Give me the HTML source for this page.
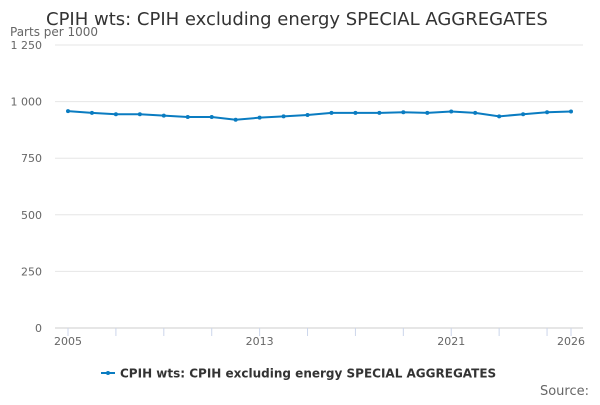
<!DOCTYPE html>
<html><head><meta charset="utf-8"><style>
body{margin:0;background:#fff;font-family:"Liberation Sans","DejaVu Sans",sans-serif;}
svg text{font-family:"DejaVu Sans","Liberation Sans",sans-serif;}
</style></head><body>
<svg width="600" height="400">
<text x="46" y="25" font-size="18" fill="#333">CPIH wts: CPIH excluding energy SPECIAL AGGREGATES</text>
<text x="10" y="36" font-size="12" fill="#666">Parts per 1000</text>
<g id="grid"></g><g id="xt"></g>
<polyline id="line" fill="none" stroke="#0a7cc1" stroke-width="2"/>
<g id="pts"></g>
<line x1="101" y1="373" x2="115" y2="373" stroke="#0a7cc1" stroke-width="2"/>
<circle cx="108" cy="373" r="2" fill="#0a7cc1"/>
<text x="120" y="377.5" font-size="12" font-weight="bold" fill="#333">CPIH wts: CPIH excluding energy SPECIAL AGGREGATES</text>
<text x="589" y="395" font-size="13" fill="#666" text-anchor="end">Source:</text>
</svg>
<script>
const years=[2005,2006,2007,2008,2009,2010,2011,2012,2013,2014,2015,2016,2017,2018,2019,2020,2021,2022,2023,2024,2025,2026];
const values=[958,950,944,944,938,932,932,920,929,935,941,950,950,950,953,950,956,950,935,944,953,956];
const yTicks=[0,250,500,750,1000,1250];
const yTickLabels=["0","250","500","750","1 000","1 250"];
const xLabels=[2005,2013,2021,2026];
const ns="http://www.w3.org/2000/svg";
const X=y=>68+(y-2005)*(571-68)/21;
const Y=v=>328-v*(328-45)/1250;
function mk(t,a,p){const e=document.createElementNS(ns,t);for(const k in a)e.setAttribute(k,a[k]);p.appendChild(e);return e;}
const g=document.getElementById('grid');
yTicks.forEach((v,i)=>{
 const l=mk('line',{x1:55,x2:583,y1:Y(v),y2:Y(v),stroke:v===0?'#ccc':'#e6e6e6'},g);
 
 
 const t=mk('text',{x:42,y:Y(v)+4,'font-size':11,fill:'#666','text-anchor':'end'},g);
 t.textContent=yTickLabels[i];
 
 
});
const xt=document.getElementById('xt');
for(let yr=2005;yr<=2026;yr+=2){mk('line',{x1:X(yr),x2:X(yr),y1:328,y2:336,stroke:'#ccd6eb'},xt);}
mk('line',{x1:X(2026),x2:X(2026),y1:328,y2:336,stroke:'#ccd6eb'},xt);
xLabels.forEach(yr=>{
 const t=mk('text',{x:X(yr),y:345,'font-size':11,fill:'#666','text-anchor':'middle'},xt);
 t.textContent=yr;
 
 
});
document.getElementById('line').setAttribute('points',years.map((y,i)=>X(y)+','+Y(values[i])).join(' '));
const P=document.getElementById('pts');
years.forEach((y,i)=>{
 const c=mk('circle',{cx:X(y),cy:Y(values[i]),r:2,fill:'#0a7cc1'},P);
 
 
});
</script>
</body></html>
